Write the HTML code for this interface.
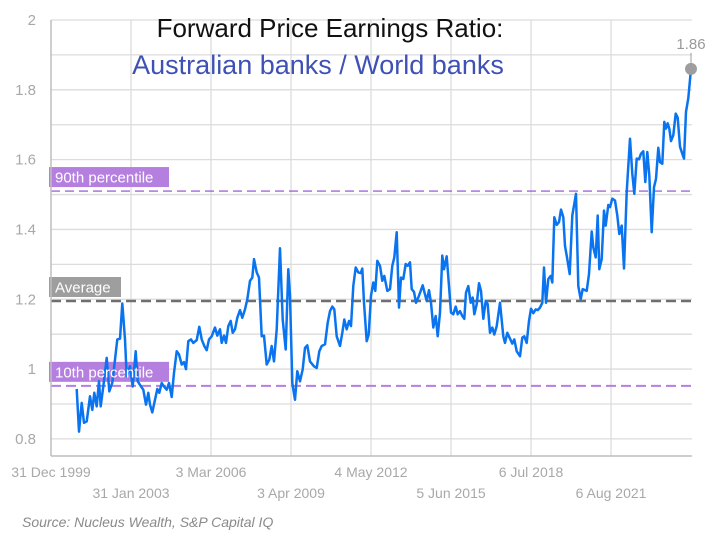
<!DOCTYPE html>
<html><head><meta charset="utf-8"><style>
html,body{margin:0;padding:0;background:#fff;}
svg{display:block;font-family:"Liberation Sans",sans-serif;}
</style></head><body>
<svg id="chart" width="721" height="541" viewBox="0 0 721 541" xmlns="http://www.w3.org/2000/svg">
<g id="grid"></g>
<g id="refs"></g>
<g id="series"></g>
<g id="reftext"></g>
<g id="axes"></g>
<text x="330" y="37" font-size="26" fill="#111" text-anchor="middle">Forward Price Earnings Ratio:</text>
<text x="318" y="74" font-size="27" fill="#3f51b5" text-anchor="middle">Australian banks / World banks</text>
<text x="22" y="527" font-size="14" font-style="italic" fill="#8a8a8a">Source: Nucleus Wealth, S&amp;P Capital IQ</text>
</svg>
<script>
const dates=[2000.991,2001.080,2001.184,2001.272,2001.377,2001.504,2001.593,2001.670,2001.762,2001.851,2001.916,2002.017,2002.148,2002.248,2002.364,2002.468,2002.557,2002.661,2002.749,2002.853,2002.919,2003.046,2003.150,2003.266,2003.343,2003.470,2003.559,2003.663,2003.752,2003.817,2003.906,2004.010,2004.099,2004.176,2004.269,2004.357,2004.461,2004.550,2004.654,2004.743,2004.847,2004.936,2005.040,2005.128,2005.206,2005.294,2005.398,2005.487,2005.618,2005.718,2005.811,2005.911,2006.004,2006.092,2006.197,2006.324,2006.413,2006.517,2006.582,2006.671,2006.748,2006.837,2006.929,2007.006,2007.095,2007.184,2007.288,2007.377,2007.481,2007.569,2007.674,2007.762,2007.828,2007.932,2008.020,2008.125,2008.213,2008.317,2008.418,2008.510,2008.599,2008.703,2008.830,2008.934,2009.050,2009.150,2009.216,2009.305,2009.409,2009.497,2009.601,2009.706,2009.794,2009.883,2009.987,2010.141,2010.246,2010.346,2010.438,2010.565,2010.670,2010.758,2010.847,2010.924,2011.017,2011.144,2011.233,2011.310,2011.402,2011.491,2011.568,2011.657,2011.749,2011.850,2011.942,2012.004,2012.070,2012.173,2012.251,2012.339,2012.428,2012.505,2012.582,2012.686,2012.775,2012.852,2012.968,2013.072,2013.161,2013.238,2013.330,2013.419,2013.496,2013.585,2013.677,2013.754,2013.843,2013.909,2013.997,2014.074,2014.163,2014.256,2014.333,2014.421,2014.487,2014.576,2014.653,2014.742,2014.834,2014.911,2015.000,2015.089,2015.154,2015.258,2015.347,2015.424,2015.513,2015.605,2015.682,2015.771,2015.860,2015.937,2016.002,2016.091,2016.184,2016.261,2016.323,2016.415,2016.504,2016.581,2016.670,2016.762,2016.840,2016.928,2017.017,2017.094,2017.186,2017.313,2017.441,2017.506,2017.595,2017.699,2017.788,2017.865,2017.958,2018.085,2018.174,2018.251,2018.344,2018.432,2018.509,2018.598,2018.690,2018.768,2018.856,2018.945,2019.010,2019.087,2019.176,2019.269,2019.330,2019.407,2019.500,2019.589,2019.666,2019.754,2019.820,2019.909,2020.001,2020.101,2020.244,2020.333,2020.426,2020.503,2020.657,2020.745,2020.850,2020.911,2021.004,2021.081,2021.143,2021.235,2021.324,2021.390,2021.490,2021.555,2021.644,2021.748,2021.837,2021.914,2022.006,2022.095,2022.199,2022.326,2022.415,2022.492,2022.585,2022.673,2022.750,2022.839,2022.916,2022.993,2023.070,2023.163,2023.252,2023.329,2023.417,2023.483,2023.572,2023.649,2023.715,2023.780,2023.841,2023.908,2023.996,2024.089,2024.166,2024.255,2024.344,2024.409,2024.486,2024.575,2024.678];
const ratio=[0.943,0.821,0.903,0.846,0.85,0.922,0.883,0.932,0.893,0.965,0.893,0.95,1.032,0.936,0.961,1.027,1.085,1.087,1.188,1.085,0.979,1.008,0.95,1.051,0.965,0.95,0.941,0.898,0.932,0.898,0.876,0.912,0.943,0.932,0.96,0.95,0.941,0.96,0.92,0.989,1.051,1.042,1.013,1.02,1.0,1.08,1.085,1.075,1.083,1.121,1.085,1.066,1.054,1.085,1.094,1.119,1.096,1.114,1.075,1.096,1.075,1.123,1.138,1.104,1.114,1.147,1.169,1.147,1.171,1.2,1.253,1.262,1.315,1.277,1.262,1.094,1.096,1.013,1.027,1.066,1.022,1.114,1.346,1.142,1.056,1.286,1.21,0.96,0.912,0.994,0.965,0.999,1.061,1.068,1.022,1.008,1.003,1.051,1.066,1.071,1.133,1.166,1.179,1.171,1.094,1.066,1.104,1.142,1.114,1.138,1.123,1.238,1.291,1.277,1.275,1.288,1.19,1.08,1.099,1.21,1.248,1.224,1.31,1.296,1.253,1.267,1.224,1.229,1.296,1.32,1.392,1.176,1.262,1.258,1.301,1.296,1.306,1.229,1.221,1.19,1.205,1.224,1.24,1.214,1.195,1.226,1.19,1.119,1.152,1.094,1.162,1.325,1.286,1.323,1.238,1.162,1.157,1.179,1.157,1.166,1.152,1.144,1.219,1.238,1.19,1.205,1.157,1.186,1.246,1.224,1.144,1.195,1.186,1.104,1.119,1.099,1.123,1.19,1.094,1.075,1.104,1.087,1.073,1.085,1.051,1.037,1.09,1.094,1.075,1.138,1.173,1.16,1.171,1.169,1.176,1.19,1.291,1.19,1.258,1.267,1.248,1.435,1.413,1.421,1.457,1.435,1.353,1.315,1.272,1.44,1.502,1.238,1.2,1.229,1.224,1.272,1.394,1.349,1.32,1.44,1.286,1.315,1.454,1.411,1.47,1.464,1.488,1.483,1.44,1.387,1.411,1.288,1.507,1.66,1.56,1.502,1.603,1.601,1.617,1.624,1.536,1.622,1.555,1.392,1.521,1.545,1.634,1.593,1.588,1.708,1.689,1.704,1.689,1.653,1.67,1.732,1.72,1.637,1.617,1.603,1.737,1.776,1.86];
const yTicks=[0.8,1,1.2,1.4,1.6,1.8,2];
const yTickLabels=["0.8","1","1.2","1.4","1.6","1.8","2"];
const yGrid=[0.8,0.9,1.0,1.1,1.2,1.3,1.4,1.5,1.6,1.7,1.8,1.9,2.0];
const xTicks=[2000,2003.085,2006.17,2009.255,2012.34,2015.425,2018.51,2021.595];
const xTickLabels=["31 Dec 1999","31 Jan 2003","3 Mar 2006","3 Apr 2009","4 May 2012","5 Jun 2015","6 Jul 2018","6 Aug 2021"];
const refValues=[1.51,1.195,0.952];
const refLabels=["90th percentile","Average","10th percentile"];

const NS="http://www.w3.org/2000/svg";
const L=51,R=692,T=20,B=456;
const X0=2000,X1=2024.717,Y0=0.751,Y1=2.0;
function xs(v){return L+(v-X0)/(X1-X0)*(R-L);}
function ys(v){return B-(v-Y0)/(Y1-Y0)*(B-T);}
function mk(tag,attrs,parent){const e=document.createElementNS(NS,tag);for(const k in attrs)e.setAttribute(k,attrs[k]);parent.appendChild(e);return e;}
const grid=document.getElementById('grid'),axes=document.getElementById('axes'),refs=document.getElementById('refs'),series=document.getElementById('series'),reftext=document.getElementById('reftext');

yGrid.forEach(v=>{const l=mk('line',{x1:L,x2:R,y1:ys(v),y2:ys(v),stroke:'#dcdcdc','stroke-width':1.3},grid);

});
xTicks.forEach((v,i)=>{if(i===0)return;const l=mk('line',{x1:xs(v),x2:xs(v),y1:T,y2:B,stroke:'#dcdcdc','stroke-width':1.3},grid);

});
const ya=mk('line',{x1:L,x2:L,y1:T,y2:B,stroke:'#bdbdbd','stroke-width':1.5},axes);


const xa=mk('line',{x1:L,x2:R,y1:B,y2:B,stroke:'#bdbdbd','stroke-width':1.5},axes);


yTicks.forEach((v,i)=>{const t=mk('text',{x:36,y:ys(v)+5,'font-size':15,fill:'#a8a8a8','text-anchor':'end'},axes);t.textContent=yTickLabels[i];

});
xTicks.forEach((v,i)=>{const t=mk('text',{x:xs(v),y:i%2===0?477:498,'font-size':14,fill:'#a8a8a8','text-anchor':'middle'},axes);t.textContent=xTickLabels[i];

});

const refStyles=[{c:'#8e44d6',w:1.2,d:'9,5',bg:'#b57fe0',bw:120},{c:'#6e6e6e',w:2.6,d:'10,5',bg:'#9e9e9e',bw:72},{c:'#b57fe0',w:2,d:'10,5',bg:'#b57fe0',bw:120}];
refValues.forEach((v,i)=>{const s=refStyles[i];const y=ys(v);
const l=mk('line',{x1:L,x2:R,y1:y,y2:y,stroke:s.c,'stroke-width':s.w,'stroke-dasharray':s.d},refs);


const r=mk('rect',{x:49,y:y-24,width:s.bw,height:20,fill:s.bg},refs);


const t=mk('text',{x:55,y:y-8.5,'font-size':15,fill:'#fff'},reftext);t.textContent=refLabels[i];

});

let d='';dates.forEach((v,i)=>{d+=(i?'L':'M')+xs(v).toFixed(1)+','+ys(ratio[i]).toFixed(1);});
const p=mk('path',{d:d,fill:'none',stroke:'#0a74f0','stroke-width':2.5,'stroke-linejoin':'round'},series);


const n=dates.length-1,lx=xs(dates[n]),ly=ys(ratio[n]);
const c=mk('circle',{cx:lx,cy:ly,r:6,fill:'#9e9e9e'},series);


const cl=mk('line',{x1:lx,x2:lx,y1:ly-6,y2:ly-16,stroke:'#9e9e9e','stroke-width':1},series);


const lt=mk('text',{x:lx,y:ly-20,'font-size':15,fill:'#999','text-anchor':'middle'},series);lt.textContent=ratio[n].toFixed(2);


</script>
</body></html>
